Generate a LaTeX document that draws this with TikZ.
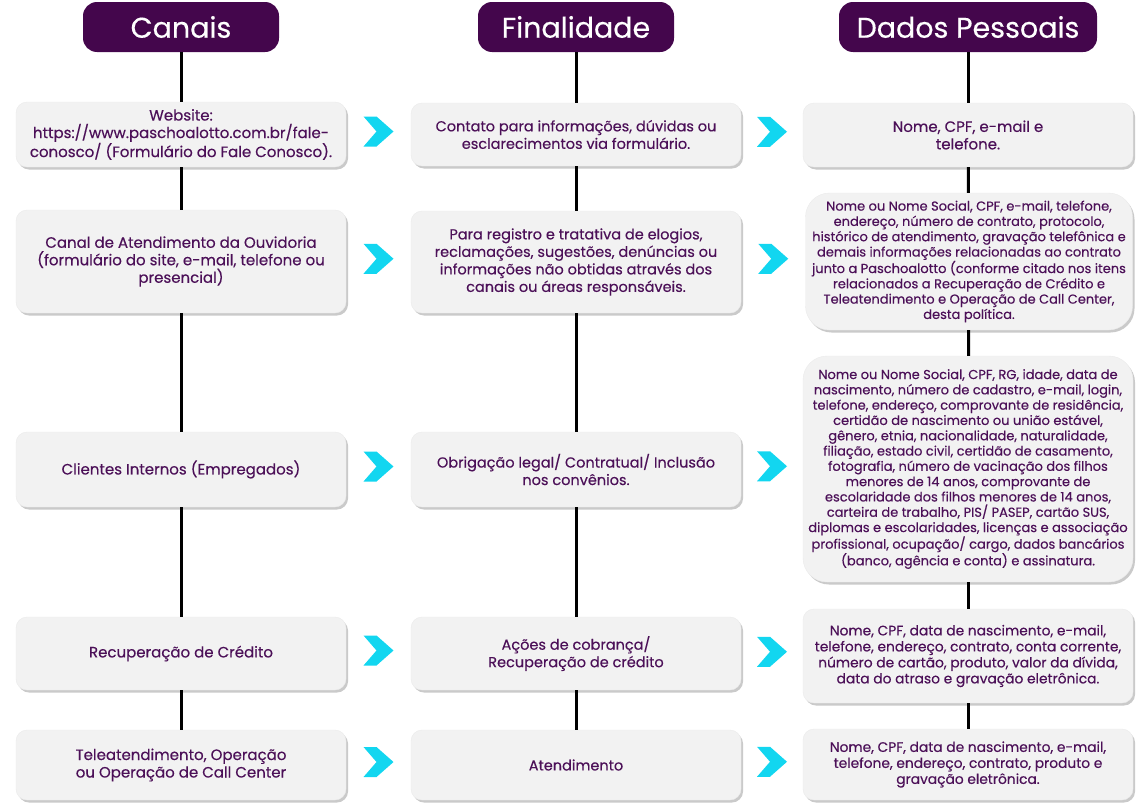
\documentclass[tikz,border=0pt]{standalone}
\usepackage{fontspec}
\setmainfont{Poppins}[UprightFeatures={FakeBold=0.35}]
\usetikzlibrary{positioning,shadows}
\definecolor{roxo}{RGB}{68,6,76}
\definecolor{roxotexto}{RGB}{76,16,88}
\definecolor{cinzaclaro}{RGB}{242,242,242}
\definecolor{ciano}{RGB}{18,214,240}
\tikzset{
  titulo/.style={
    rounded corners=14pt,
    fill=roxo,
    text=white,
    minimum height=50pt,
    inner sep=0pt,
    font=\fontsize{28.5}{32}\selectfont
  },
  caixa/.style={
    rounded corners=11pt,
    draw=black!8,
    fill=cinzaclaro,
    text=roxotexto,
    align=center,
    minimum width=330pt,
    inner sep=0pt,
    font=\fontsize{14.5}{17.5}\selectfont,
    drop shadow={shadow xshift=2pt, shadow yshift=-2.5pt, fill=black!35, opacity=.6}
  },
  caixagrande/.style={
    caixa,
    rounded corners=24pt,
    font=\fontsize{13}{15.3}\selectfont
  },
  linha/.style={
    line width=3pt,
    black
  },
  seta/.pic={
    \fill[ciano] (-15,-15) -- (-2,-15) -- (15,0) -- (-2,15) -- (-15,15) -- (-2,0) -- cycle;
  }
}
\begin{document}
\begin{tikzpicture}[x=1pt,y=-1pt]
\useasboundingbox (0,0) rectangle (1140,806);
% cabecalhos
\node[titulo, minimum width=196pt] (t1) at (181,27) {Canais};
\node[titulo, minimum width=196pt] (t2) at (576,27) {Finalidade};
\node[titulo, minimum width=258pt] (t3) at (968,27) {Dados Pessoais};
% linha 1
\node[caixa, minimum height=65pt, font=\fontsize{15}{17.5}\selectfont] (c1) at (181,134.5) {Website:\\https://www.paschoalotto.com.br/fale-\\conosco/ (Formulário do Fale Conosco).};
\node[caixa, minimum height=63pt] (f1) at (576,134.5) {Contato para informações, dúvidas ou\\esclarecimentos via formulário.};
\node[caixa, minimum height=64pt, font=\fontsize{15}{17.5}\selectfont] (d1) at (968,135) {Nome, CPF, e-mail e\\telefone.};
% linha 2
\node[caixa, minimum height=103pt, font=\fontsize{15}{17.5}\selectfont] (c2) at (181,261.5) {Canal de Atendimento da Ouvidoria\\(formulário do site, e-mail, telefone ou\\presencial)};
\node[caixa, minimum height=102pt] (f2) at (576,262) {Para registro e tratativa de elogios,\\reclamações, sugestões, denúncias ou\\informações não obtidas através dos\\canais ou áreas responsáveis.};
\node[caixagrande, minimum width=327pt, minimum height=137pt] (d2) at (969,261.5) {Nome ou Nome Social, CPF, e-mail, telefone,\\endereço, número de contrato, protocolo,\\histórico de atendimento, gravação telefônica e\\demais informações relacionadas ao contrato\\junto a Paschoalotto (conforme citado nos itens\\relacionados a Recuperação de Crédito e\\Teleatendimento e Operação de Call Center,\\desta política.};
% linha 3
\node[caixa, minimum height=75pt, font=\fontsize{15}{17.5}\selectfont] (c3) at (181,469.5) {Clientes Internos (Empregados)};
\node[caixa, minimum height=75pt] (f3) at (576,469.5) {Obrigação legal/ Contratual/ Inclusão\\nos convênios.};
\node[caixagrande, minimum height=226pt] (d3) at (968,469) {Nome ou Nome Social, CPF, RG, idade, data de\\nascimento, número de cadastro, e-mail, login,\\telefone, endereço, comprovante de residência,\\certidão de nascimento ou união estável,\\gênero, etnia, nacionalidade, naturalidade,\\filiação, estado civil, certidão de casamento,\\fotografia, número de vacinação dos filhos\\menores de 14 anos, comprovante de\\escolaridade dos filhos menores de 14 anos,\\carteira de trabalho, PIS/ PASEP, cartão SUS,\\diplomas e escolaridades, licenças e associação\\profissional, ocupação/ cargo, dados bancários\\(banco, agência e conta) e assinatura.};
% linha 4
\node[caixa, minimum height=73pt, font=\fontsize{15}{17.5}\selectfont] (c4) at (181,653.5) {Recuperação de Crédito};
\node[caixa, minimum height=73pt] (f4) at (576,653.5) {Ações de cobrança/\\Recuperação de crédito};
\node[caixa, minimum height=94pt, font=\fontsize{13.8}{16}\selectfont] (d4) at (968,656) {Nome, CPF, data de nascimento, e-mail,\\telefone, endereço, contrato, conta corrente,\\número de cartão, produto, valor da dívida,\\data do atraso e gravação eletrônica.};
% linha 5
\node[caixa, minimum height=70pt, font=\fontsize{15}{17.5}\selectfont] (c5) at (181,765) {Teleatendimento, Operação\\ou Operação de Call Center};
\node[caixa, minimum height=70pt] (f5) at (576,765) {Atendimento};
\node[caixa, minimum height=71pt, font=\fontsize{13.8}{16}\selectfont] (d5) at (968,764.5) {Nome, CPF, data de nascimento, e-mail,\\telefone, endereço, contrato, produto e\\gravação eletrônica.};
% linhas verticais
\draw[linha] (t1) -- (c1);
\draw[linha] (c1) -- (c2);
\draw[linha] (c2) -- (c3);
\draw[linha] (c3) -- (c4);
\draw[linha] (c4) -- (c5);
\draw[linha] (t2) -- (f1);
\draw[linha] (f1) -- (f2);
\draw[linha] (f2) -- (f3);
\draw[linha] (f3) -- (f4);
\draw[linha] (f4) -- (f5);
\draw[linha] (t3) -- (d1);
\draw[linha] (d1) -- (d2);
\draw[linha] (d2) -- (d3);
\draw[linha] (d3) -- (d4);
\draw[linha] (d4) -- (d5);
% setas
\foreach \i in {1,...,5} {
  \path (c\i.east) -- (f\i.west) coordinate[midway] (sa\i);
  \path (f\i.east) -- (d\i.west) coordinate[midway] (sb\i);
  \pic at ([yshift=3pt]sa\i) {seta};
  \pic at ([yshift=3pt]sb\i) {seta};
}
\end{tikzpicture}
\end{document}
